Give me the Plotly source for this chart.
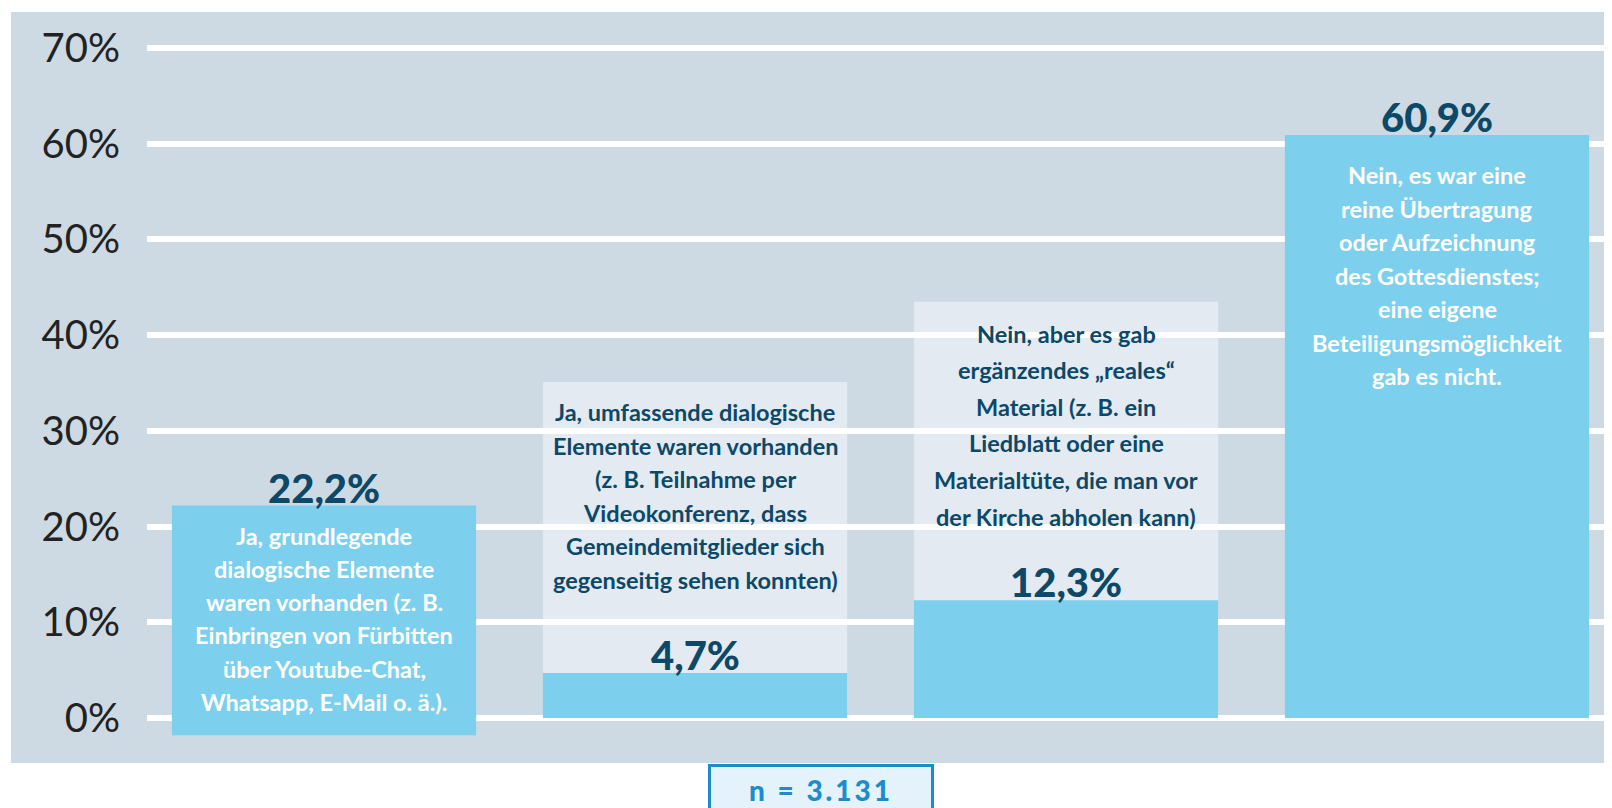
import plotly.graph_objects as go

# ---------------- data ----------------
categories = ["grundlegende dialogische Elemente",
              "umfassende dialogische Elemente",
              "ergänzendes reales Material",
              "reine Übertragung"]
values = [22.2, 4.7, 12.3, 60.9]
value_labels = ["22,2%", "4,7%", "12,3%", "60,9%"]
descriptions = [
    ["Ja, grundlegende", "dialogische Elemente", "waren vorhanden (z. B.",
     "Einbringen von Fürbitten", "über Youtube-Chat,", "Whatsapp, E-Mail o. ä.)."],
    ["Ja, umfassende dialogische", "Elemente waren vorhanden", "(z. B. Teilnahme per",
     "Videokonferenz, dass", "Gemeindemitglieder sich", "gegenseitig sehen konnten)"],
    ["Nein, aber es gab", "ergänzendes „reales“", "Material (z. B. ein",
     "Liedblatt oder eine", "Materialtüte, die man vor", "der Kirche abholen kann)"],
    ["Nein, es war eine", "reine Übertragung", "oder Aufzeichnung", "des Gottesdienstes;",
     "eine eigene", "Beteiligungsmöglichkeit", "gab es nicht."],
]
y_ticks = [0, 10, 20, 30, 40, 50, 60, 70]
y_tick_labels = ["0%", "10%", "20%", "30%", "40%", "50%", "60%", "70%"]
sample_note = "n = 3.131"

# ---------------- style / layout ----------------
PANEL = "#cdd9e3"
LIGHT = "#e3eaf1"
BLUE = "#7dcfee"
NAVY = "#0c4867"
NBLUE = "#1c8ccb"
FONT = "Lato"
BAR_W = 0.82

# label box tops (y units) for the light text boxes, and text placement
box_tops = [None, 35.1, 43.5, None]
box_bottom_ext = [-1.8, None, None, None]      # label box extending below 0
text_colors = ["white", NAVY, NAVY, "white"]
first_line_px = [30, 30, 32, 40]
line_step_px = [33.3, 33.5, 36.6, 33.5]

x_idx = list(range(len(categories)))

fig = go.Figure()
fig.add_trace(go.Bar(
    x=x_idx, y=values, width=BAR_W,
    marker=dict(color=BLUE, line=dict(width=0)),
    customdata=categories, hovertemplate="%{customdata}: %{y}%<extra></extra>",
    showlegend=False,
))

shapes = []
# panel background (extends under the tick labels)
shapes.append(dict(type="rect", xref="paper", yref="paper",
                   x0=-136 / 1465, x1=1, y0=0, y1=1,
                   fillcolor=PANEL, line=dict(width=0), layer="below"))
for i, top in enumerate(box_tops):
    if top is not None:
        shapes.append(dict(type="rect", xref="x", yref="y",
                           x0=i - BAR_W / 2, x1=i + BAR_W / 2, y0=0, y1=top,
                           fillcolor=LIGHT, line=dict(width=0), layer="below"))
for i, ext in enumerate(box_bottom_ext):
    if ext is not None:
        shapes.append(dict(type="rect", xref="x", yref="y",
                           x0=i - BAR_W / 2, x1=i + BAR_W / 2, y0=ext, y1=0.6,
                           fillcolor=BLUE, line=dict(width=0), layer="above"))

annotations = []
for i, (v, lab) in enumerate(zip(values, value_labels)):
    annotations.append(dict(x=i, y=v, xref="x", yref="y", text=lab,
                            showarrow=False, yanchor="bottom", yshift=-8,
                            font=dict(family=FONT, size=40, color=NAVY, weight=900)))
    anchor = box_tops[i] if box_tops[i] is not None else v
    for k, line in enumerate(descriptions[i]):
        annotations.append(dict(x=i, y=anchor, xref="x", yref="y", text=line,
                                showarrow=False, yanchor="middle",
                                yshift=-(first_line_px[i] + k * line_step_px[i]),
                                font=dict(family=FONT, size=23.5, color=text_colors[i],
                                          weight="bold")))

annotations.append(dict(
    x=(821 - 147) / 1465, y=-27 / 751, xref="paper", yref="paper",
    text='<span style="letter-spacing:3px">' + sample_note + '</span>',
    showarrow=False, xanchor="center", yanchor="middle",
    width=220, height=46, bgcolor="#e3f2fb", bordercolor=NBLUE, borderwidth=3,
    borderpad=0,
    font=dict(family=FONT, size=28, color=NBLUE, weight=900)))

# page has an 8px body margin: figure is 1604x800 and everything is offset by -8px
fig.update_layout(
    width=1604, height=800,
    margin=dict(l=139, r=0, t=4, b=45),
    paper_bgcolor="white", plot_bgcolor=PANEL,
    shapes=shapes, annotations=annotations,
    bargap=0.18,
    xaxis=dict(range=[-0.4771, 3.4717], visible=False, fixedrange=True),
    yaxis=dict(range=[-4.70, 73.76], tickvals=y_ticks, ticktext=y_tick_labels,
               showgrid=True, gridcolor="white", gridwidth=6, zeroline=False,
               showline=False, ticks="", ticklabelstandoff=26, automargin=False,
               tickfont=dict(family=FONT, size=40, color="#222222"),
               fixedrange=True),
)

fig.write_html("out.html")
